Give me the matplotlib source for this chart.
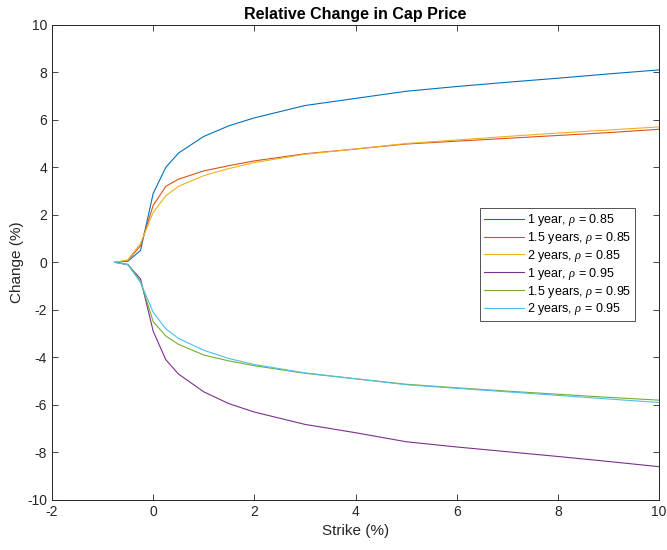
import matplotlib
matplotlib.use("Agg")
import matplotlib.pyplot as plt

plt.rcParams['font.family'] = ['Liberation Sans', 'DejaVu Sans']
plt.rcParams['mathtext.fontset'] = 'custom'
plt.rcParams['mathtext.it'] = 'Liberation Serif:italic'
plt.rcParams['axes.unicode_minus'] = False

strike = [-0.75, -0.5, -0.25, 0, 0.25, 0.5, 1, 1.5, 2, 3, 4, 5, 6, 7, 8, 9, 10]

y1_85 = [0.0, 0.05, 0.5, 2.9, 4.0, 4.6, 5.3, 5.75, 6.08, 6.6, 6.9, 7.2, 7.4, 7.58, 7.75, 7.93, 8.1]
y15_85 = [0.0, 0.08, 0.7, 2.4, 3.2, 3.5, 3.85, 4.07, 4.27, 4.57, 4.77, 4.98, 5.1, 5.22, 5.34, 5.46, 5.6]
y2_85 = [0.0, 0.1, 0.8, 2.1, 2.8, 3.2, 3.65, 3.95, 4.2, 4.55, 4.77, 5.0, 5.15, 5.3, 5.44, 5.57, 5.7]
y1_95 = [0.0, -0.1, -0.7, -2.9, -4.1, -4.7, -5.45, -5.95, -6.3, -6.82, -7.17, -7.55, -7.77, -7.97, -8.17, -8.38, -8.6]
y15_95 = [0.0, -0.08, -0.8, -2.5, -3.1, -3.45, -3.9, -4.15, -4.35, -4.67, -4.9, -5.13, -5.28, -5.42, -5.55, -5.68, -5.8]
y2_95 = [0.0, -0.1, -0.85, -2.1, -2.8, -3.2, -3.7, -4.05, -4.3, -4.65, -4.9, -5.15, -5.3, -5.45, -5.6, -5.75, -5.9]

series = [
    (y1_85, '1 year, $\\rho$ = 0.85', (0.0, 0.447, 0.741)),
    (y15_85, '1.5 years, $\\rho$ = 0.85', (0.85, 0.325, 0.098)),
    (y2_85, '2 years, $\\rho$ = 0.85', (0.929, 0.694, 0.125)),
    (y1_95, '1 year, $\\rho$ = 0.95', (0.494, 0.184, 0.556)),
    (y15_95, '1.5 years, $\\rho$ = 0.95', (0.466, 0.674, 0.188)),
    (y2_95, '2 years, $\\rho$ = 0.95', (0.301, 0.745, 0.933)),
]

fig = plt.figure(figsize=(6.67, 5.5), dpi=100)
ax = fig.add_axes([0.078, 0.091, 0.910, 0.864])

for ys, lab, col in series:
    ax.plot(strike, ys, color=col, lw=0.8, label=lab)

ax.set_xlim(-2, 10)
ax.set_ylim(-10, 10)
ax.set_xticks(range(-2, 11, 2))
ax.set_yticks(range(-10, 11, 2))

axis_col = (0.15, 0.15, 0.15)
for s in ax.spines.values():
    s.set_color(axis_col)
    s.set_linewidth(0.7)
ax.tick_params(direction='in', top=True, right=True, length=4, width=0.6,
               colors=axis_col, labelsize=10)

ax.set_xlabel('Strike (%)', fontsize=11, color=axis_col)
ax.set_ylabel('Change (%)', fontsize=11, color=axis_col, labelpad=2)
ax.set_title('Relative Change in Cap Price', fontsize=11.5, fontweight='bold', pad=4)

leg = ax.legend(loc='center left', bbox_to_anchor=(0.705, 0.495), fontsize=9,
                frameon=True, fancybox=False, handlelength=3.2,
                borderpad=0.3, labelspacing=0.15, handletextpad=0.25,
                borderaxespad=0)
leg.get_frame().set_edgecolor(axis_col)
leg.get_frame().set_linewidth(0.7)

fig.savefig('out.png', dpi=100)
